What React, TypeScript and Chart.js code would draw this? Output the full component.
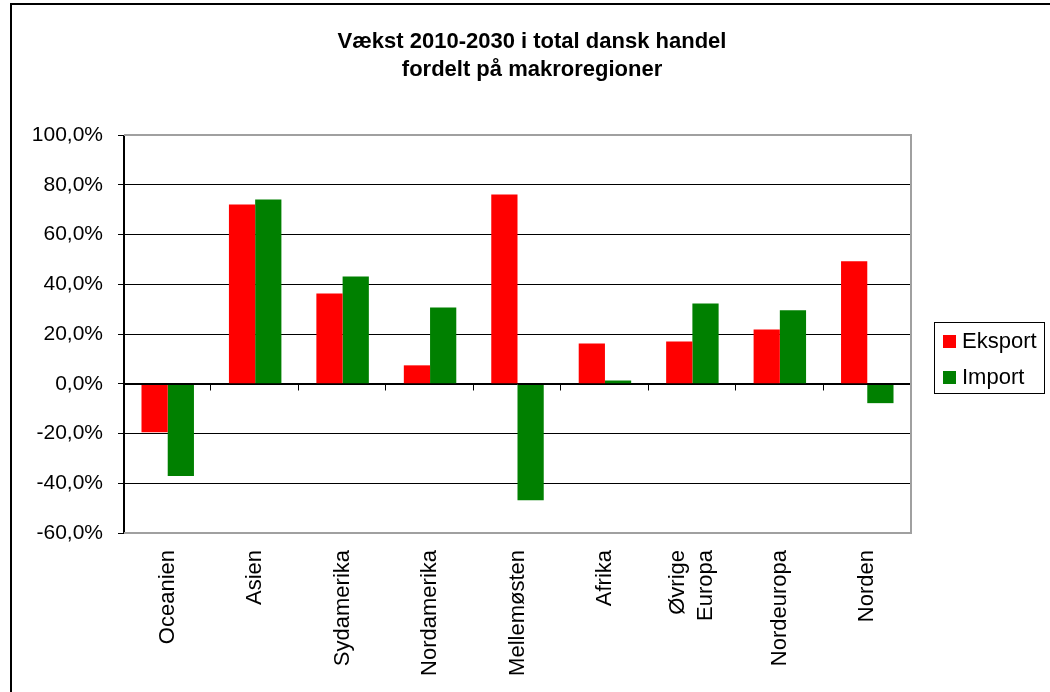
import { useEffect, useRef } from 'react';
import { Chart, registerables } from 'chart.js';

Chart.register(...registerables);

const TITLE_LINES = ['Vækst 2010-2030 i total dansk handel', 'fordelt på makroregioner'];
const CATEGORIES: (string | string[])[] = [
  'Oceanien',
  'Asien',
  'Sydamerika',
  'Nordamerika',
  'Mellemøsten',
  'Afrika',
  ['Øvrige', 'Europa'],
  'Nordeuropa',
  'Norden',
];
const EKSPORT = [-19.5, 72.1, 36.3, 7.4, 76.1, 16.2, 17.0, 21.8, 49.2];
const IMPORT = [-37.1, 74.1, 43.1, 30.7, -46.8, 1.3, 32.3, 29.5, -7.8];
const SERIES_NAMES = ['Eksport', 'Import'];
const SERIES_COLORS = ['#FF0000', '#008000'];
const Y_MIN = -60;
const Y_MAX = 100;
const Y_STEP = 20;

const FONT = '"Liberation Sans", Arial, sans-serif';

const fmt = (v: number) => v.toFixed(1).replace('.', ',') + '%';

const decorPlugin = {
  id: 'decor',
  afterDatasetsDraw(chart: any) {
    const { ctx, chartArea, scales } = chart;
    const y0 = Math.round(scales.y.getPixelForValue(0)) + 0.5;
    ctx.save();
    ctx.strokeStyle = '#000';
    ctx.lineWidth = 1;
    ctx.beginPath();
    ctx.moveTo(chartArea.left, y0);
    ctx.lineTo(chartArea.right, y0);
    const n = chart.data.labels.length;
    const w = (chartArea.right - chartArea.left) / n;
    for (let k = 1; k <= n; k++) {
      const x = Math.round(chartArea.left + k * w) - 0.5;
      ctx.moveTo(x, y0);
      ctx.lineTo(x, y0 + 6);
    }
    ctx.stroke();
    ctx.restore();
  },
  afterDraw(chart: any) {
    const { ctx, chartArea, scales } = chart;
    ctx.save();
    // plot area border (top, right, bottom)
    ctx.strokeStyle = '#a0a0a0';
    ctx.lineWidth = 2;
    ctx.beginPath();
    ctx.moveTo(chartArea.left, chartArea.top);
    ctx.lineTo(chartArea.right, chartArea.top);
    ctx.lineTo(chartArea.right, chartArea.bottom);
    ctx.lineTo(chartArea.left, chartArea.bottom);
    ctx.stroke();
    // left axis redraw
    ctx.strokeStyle = '#000';
    ctx.lineWidth = 1;
    ctx.beginPath();
    ctx.moveTo(chartArea.left - 0.5, chartArea.top);
    ctx.lineTo(chartArea.left - 0.5, chartArea.bottom);
    ctx.stroke();
    // outer chart border (top + left)
    ctx.strokeStyle = '#000';
    ctx.lineWidth = 2;
    ctx.beginPath();
    ctx.moveTo(11, 692);
    ctx.lineTo(11, 4);
    ctx.lineTo(1050, 4);
    ctx.stroke();
    // x category labels (rotated, multi-line centred on tick)
    ctx.fillStyle = '#000';
    ctx.font = '22px ' + FONT;
    ctx.textAlign = 'right';
    ctx.textBaseline = 'middle';
    chart.data.labels.forEach((lab: any, i: number) => {
      const lines: string[] = Array.isArray(lab) ? lab : [lab];
      const cx = scales.x.getPixelForTick(i);
      lines.forEach((ln, j) => {
        const x = cx + (j - (lines.length - 1) / 2) * 28;
        ctx.save();
        ctx.translate(x, chartArea.bottom + 17);
        ctx.rotate(-Math.PI / 2);
        ctx.fillText(ln, 0, 0);
        ctx.restore();
      });
    });
    // title
    ctx.font = 'bold 22px ' + FONT;
    ctx.textAlign = 'center';
    ctx.textBaseline = 'middle';
    TITLE_LINES.forEach((t, i) => ctx.fillText(t, 532, 42 + i * 28));
    // legend
    ctx.strokeStyle = '#000';
    ctx.lineWidth = 1;
    ctx.strokeRect(934.5, 322.5, 110, 71);
    ctx.font = '22px ' + FONT;
    ctx.textAlign = 'left';
    chart.data.datasets.forEach((ds: any, i: number) => {
      const cy = 341 + i * 36;
      ctx.fillStyle = ds.backgroundColor;
      ctx.fillRect(943, cy - 6, 13, 13);
      ctx.fillStyle = '#000';
      ctx.fillText(ds.label, 962, cy + 1);
    });
    ctx.restore();
  },
};

export default function App() {
  const ref = useRef<HTMLCanvasElement>(null);
  useEffect(() => {
    const chart = new Chart(ref.current as HTMLCanvasElement, {
      type: 'bar',
      data: {
        labels: CATEGORIES as any,
        datasets: [
          { label: SERIES_NAMES[0], data: EKSPORT, backgroundColor: SERIES_COLORS[0], borderWidth: 0 },
          { label: SERIES_NAMES[1], data: IMPORT, backgroundColor: SERIES_COLORS[1], borderWidth: 0 },
        ],
      },
      options: {
        responsive: false,
        animation: false,
        devicePixelRatio: 1,
        layout: { padding: { top: 135, right: 139, bottom: 0, left: 0 } },
        datasets: { bar: { categoryPercentage: 0.6, barPercentage: 1.0 } },
        plugins: {
          legend: { display: false },
          title: { display: false },
          tooltip: { enabled: false },
        },
        scales: {
          x: {
            grid: { display: false },
            border: { display: false },
            ticks: { display: false },
            afterFit: (s: any) => {
              s.height = 159;
            },
          },
          y: {
            min: Y_MIN,
            max: Y_MAX,
            ticks: {
              stepSize: Y_STEP,
              padding: 15,
              color: '#000',
              font: { family: FONT, size: 21 },
              callback: (v: any) => fmt(Number(v)),
            },
            grid: {
              color: (c: any) =>
                c.tick && (c.tick.value === Y_MAX || c.tick.value === Y_MIN) ? 'rgba(0,0,0,0)' : '#000',
              tickColor: '#000',
              tickLength: 6,
              lineWidth: 1,
            },
            border: { display: true, color: '#000', width: 1 },
            afterFit: (s: any) => {
              s.width = 124;
            },
          },
        },
      },
      plugins: [decorPlugin],
    } as any);
    return () => chart.destroy();
  }, []);
  return (
    <div style={{ position: 'absolute', left: 0, top: 0, width: 1050, height: 692, background: '#fff' }}>
      <canvas ref={ref} width={1050} height={692} style={{ display: 'block' }} />
    </div>
  );
}
